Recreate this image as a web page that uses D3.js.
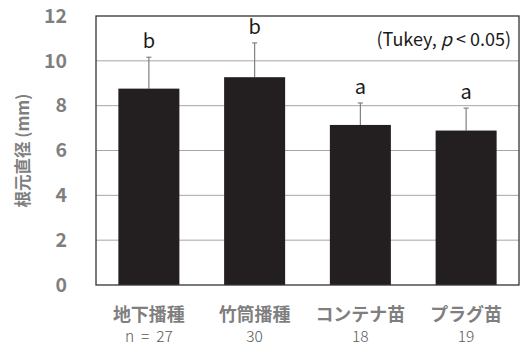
<!DOCTYPE html>
<html>
<head>
<meta charset="utf-8">
<script src="https://cdn.jsdelivr.net/npm/d3@7"></script>
<style>
  body { margin: 0; background: #fff; }
  text { font-family: "Noto Sans CJK JP", "Noto Sans", sans-serif; }
</style>
</head>
<body>
<div id="chart"></div>
<script>
const width = 524
const height = 347
const margin = {top: 16, right: 5, bottom: 62, left: 96}

const categories = ['地下播種', '竹筒播種', 'コンテナ苗', 'プラグ苗']
const counts = ['n = 27', '30', '18', '19']
const means = [8.76, 9.27, 7.14, 6.89]
const sds = [1.40, 1.53, 0.98, 1.00]
const letters = ['b', 'b', 'a', 'a']
const yTicks = [0, 2, 4, 6, 8, 10, 12]

const svg = d3.select('#chart')
  .append('svg')
  .attr('width', width)
  .attr('height', height)

const x = d3.scaleBand()
  .domain(categories)
  .range([margin.left, width - margin.right])
  .paddingInner(0.423)
  .paddingOuter(0.2115)

const y = d3.scaleLinear()
  .domain([0, 12])
  .range([height - margin.bottom, margin.top])

// gridlines
svg.append('g')
  .selectAll('line')
  .data(yTicks.filter(d => d > 0 && d < 12))
  .enter().append('line')
  .attr('x1', margin.left)
  .attr('x2', width - margin.right)
  .attr('y1', d => y(d))
  .attr('y2', d => y(d))
  .attr('stroke', '#a6a6a6')
  .attr('stroke-width', 1)

// error bars
const err = svg.append('g').attr('stroke', '#808080').attr('stroke-width', 1.2)
categories.forEach((c, i) => {
  const cx = x(c) + x.bandwidth() / 2
  err.append('line')
    .attr('x1', cx).attr('x2', cx)
    .attr('y1', y(means[i])).attr('y2', y(means[i] + sds[i]))
  err.append('line')
    .attr('x1', cx - 2.5).attr('x2', cx + 2.5)
    .attr('y1', y(means[i] + sds[i])).attr('y2', y(means[i] + sds[i]))
})

// bars
svg.selectAll('rect.bar')
  .data(categories)
  .enter().append('rect')
  .attr('class', 'bar')
  .attr('x', d => x(d))
  .attr('y', (d, i) => y(means[i]))
  .attr('width', x.bandwidth())
  .attr('height', (d, i) => y(0) - y(means[i]))
  .attr('fill', '#231f20')

// plot frame
svg.append('rect')
  .attr('x', margin.left)
  .attr('y', y(12))
  .attr('width', width - margin.right - margin.left)
  .attr('height', y(0) - y(12))
  .attr('fill', 'none')
  .attr('stroke', '#333')
  .attr('stroke-width', 1.3)

// significance letters
svg.selectAll('text.letter')
  .data(categories)
  .enter().append('text')
  .attr('class', 'letter')
  .attr('x', d => x(d) + x.bandwidth() / 2)
  .attr('y', (d, i) => y(means[i] + sds[i]) - 9)
  .attr('text-anchor', 'middle')
  .attr('font-size', 20)
  .attr('fill', '#1a1a1a')
  .text((d, i) => letters[i])

// tukey note
const note = svg.append('text')
  .attr('x', width - margin.right - 8)
  .attr('y', 46)
  .attr('text-anchor', 'end')
  .attr('font-size', 18)
  .attr('fill', '#1a1a1a')
note.append('tspan').text('(Tukey, ')
note.append('tspan').attr('font-style', 'italic').text('p')
note.append('tspan').text(' < 0.05)')

// y axis labels
const yAxis = d3.axisLeft(y).tickValues(yTicks).tickSize(0).tickPadding(0)
const ya = svg.append('g')
  .attr('transform', `translate(67,0)`)
  .call(yAxis)
ya.select('.domain').remove()
ya.selectAll('text')
  .attr('font-size', 19.5)
  .attr('font-weight', 'bold')
  .attr('fill', '#7f7f7f')
  .attr('font-family', '"Open Sans", sans-serif')

svg.append('text')
  .attr('transform', `translate(29,${(y(0) + y(12)) / 2}) rotate(-90)`)
  .attr('text-anchor', 'middle')
  .attr('font-size', 16.5)
  .attr('font-weight', 'bold')
  .attr('fill', '#7f7f7f')
  .text('根元直径 (mm)')

// x axis labels
const xAxis = d3.axisBottom(x).tickSize(0).tickPadding(0)
const xa = svg.append('g')
  .attr('transform', `translate(0,${y(0) + 23})`)
  .call(xAxis)
xa.select('.domain').remove()
xa.selectAll('text')
  .attr('font-size', 18)
  .attr('font-weight', 'bold')
  .attr('fill', '#7f7f7f')

svg.append('g')
  .selectAll('text')
  .data(categories)
  .enter().append('text')
  .attr('x', d => x(d) + x.bandwidth() / 2)
  .attr('y', 342)
  .attr('text-anchor', 'middle')
  .attr('font-size', 15.5)
  .attr('font-weight', 300)
  .attr('fill', '#595959')
  .attr('xml:space', 'preserve')
  .text((d, i) => counts[i].replace(/ /g, '  '))
</script>
</body>
</html>
